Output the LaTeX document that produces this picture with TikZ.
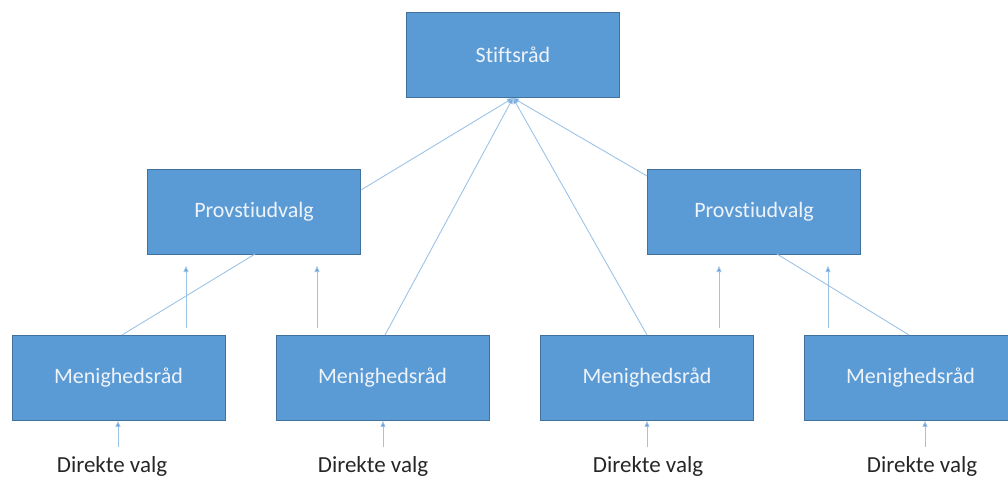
\documentclass[tikz,border=0pt]{standalone}
\usepackage{fontspec}
\setmainfont{Carlito}[Ligatures=NoCommon]
\usetikzlibrary{arrows.meta}
\definecolor{boxBlue}{HTML}{5B9BD5}
\definecolor{boxEdge}{HTML}{41719C}
\definecolor{lineBlue}{HTML}{9DC3E6}
\definecolor{boxText}{HTML}{EEF3FA}

\begin{document}
\begin{tikzpicture}[x=1pt, y=-1pt,
		orgbox/.style={rectangle, draw=boxEdge, line width=0.8pt, fill=boxBlue, minimum width=213pt, minimum height=85pt, inner sep=0pt, font=\fontsize{22}{24}\selectfont, text=boxText},
		valg/.style={inner sep=0pt, font=\fontsize{23}{25}\selectfont, text=black!85},
		link/.style={draw=lineBlue, line width=0.9pt},
		uparrow/.style={draw=lineBlue, line width=0.9pt, -{Triangle[length=6pt,width=5pt,fill=boxBlue]}}]
		\useasboundingbox (0,0) rectangle (1008,477);
		% top and middle level
		\node[orgbox] (stift) at (513,54.5) {Stiftsråd};
		\node[orgbox] (p1) at (254,211.5) {Provstiudvalg};
		\node[orgbox] (p2) at (754,211.5) {Provstiudvalg};
		% bottom level with the direct elections
		\foreach \x/\name/\tx/\ax in {
			118.5/m1/112/118,
			382.5/m2/373/383,
			647/m3/648/647,
			910.5/m4/922/925
		}{
			\node[orgbox] (\name) at (\x,378) {Menighedsråd};
			\node[valg] (d\name) at (\tx,466) {Direkte valg};
			\coordinate (a\name) at (\ax,447);
			\draw[uparrow] (a\name) -- (a\name |- \name.south);
		}
		% arrows between the levels
		\foreach \ax/\name in {186/u1, 317/u2, 719/u3, 828/u4}{
			\coordinate (\name) at (\ax,328);
			\draw[uparrow] (\name) -- (\ax,266);
		}
		% links
		\coordinate (top) at (513,98);
		\draw[link] (122,335) -- (255,254);
		\draw[link] (777,254) -- (909,335);
		\foreach \from in {(361,190), (385,335), (647,335), (647,176)}
		{\draw[uparrow] \from -- (top);}
	\end{tikzpicture}
\end{document}
